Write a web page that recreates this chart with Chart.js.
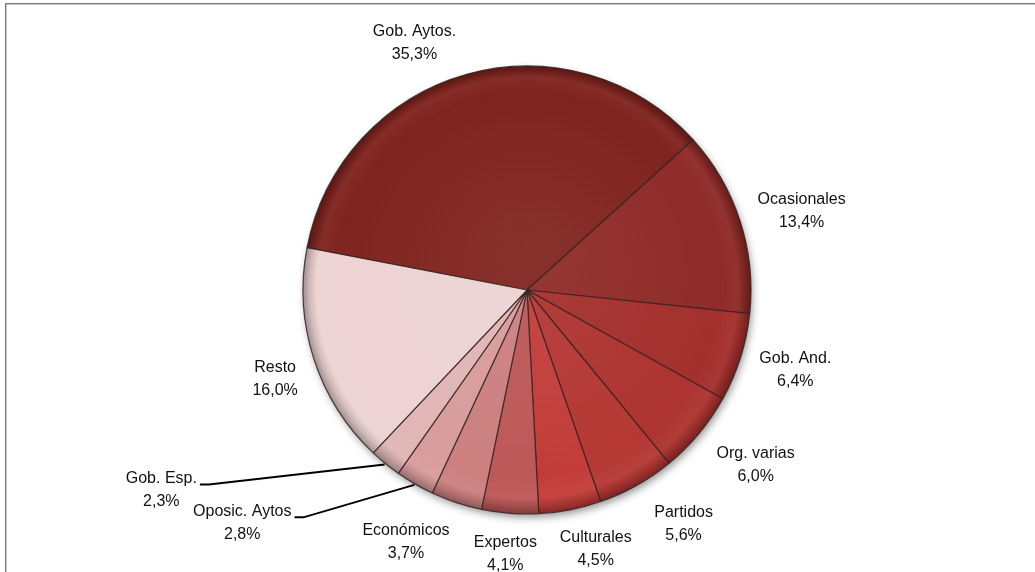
<!DOCTYPE html>
<html>
<head>
<meta charset="utf-8">
<script src="https://cdn.jsdelivr.net/npm/chart.js@4.4.1/dist/chart.umd.min.js"></script>
<style>
  html, body { margin: 0; padding: 0; background: #fff; overflow: hidden; }
  #frame {
    position: absolute; left: 5px; top: 3px; width: 1100px; height: 700px;
    border: 1px solid #7a7a7a; box-shadow: inset 0 0 0 1px #c4c4c4;
  }
  #chartBox { position: absolute; left: 0; top: 0; width: 1035px; height: 572px; }
</style>
</head>
<body>
<div id="frame"></div>
<div id="chartBox"><canvas id="pieChart" width="1035" height="572"></canvas></div>
<script>
'use strict';

// categories, clockwise starting from the big slice
const categories = ['Gob. Aytos.', 'Ocasionales', 'Gob. And.', 'Org. varias', 'Partidos',
    'Culturales', 'Expertos', 'Económicos', 'Oposic. Aytos', 'Gob. Esp.', 'Resto'];
const shares = [35.3, 13.4, 6.4, 6.0, 5.6, 4.5, 4.1, 3.7, 2.8, 2.3, 16.0];
const sliceColors = ['#80241f', '#8f2b28', '#a3302d', '#ad3430', '#b53834',
    '#c23d3a', '#bd5858', '#cc8080', '#d89c9c', '#e0b6b6', '#edd3d3'];

// label layout (nudge from default radial spot, px); leader = draw a connector line
const labelNudge = {
    'Gob. Aytos.': [-39, 16], 'Ocasionales': [15, 6], 'Gob. And.': [8, -2], 'Org. varias': [19, 0],
    'Partidos': [23, -4], 'Culturales': [16, -9], 'Expertos': [-1, -8], 'Económicos': [-35, -7],
    'Oposic. Aytos': [-148, -3], 'Gob. Esp.': [-193, -11], 'Resto': [8, 5]
};
const leaderLabels = ['Oposic. Aytos', 'Gob. Esp.'];

const FONT = '16px "Liberation Sans", Arial, sans-serif';
const PIE_R = 224;

function shade(hex, amt) {
    const n = parseInt(hex.slice(1), 16);
    let r = n >> 16, g = (n >> 8) & 255, b = n & 255;
    const f = c => Math.max(0, Math.min(255, Math.round(amt < 0 ? c * (1 + amt) : c + (255 - c) * amt)));
    return `rgb(${f(r)},${f(g)},${f(b)})`;
}

function sliceFill(context) {
    const chart = context.chart;
    const area = chart.chartArea;
    if (!area) return sliceColors[context.dataIndex];
    const cx = (area.left + area.right) / 2, cy = (area.top + area.bottom) / 2;
    const base = sliceColors[context.dataIndex];
    const g = chart.ctx.createRadialGradient(cx, cy - 40, 0, cx, cy, PIE_R);
    g.addColorStop(0, shade(base, 0.06));
    g.addColorStop(0.86, base);
    g.addColorStop(0.94, shade(base, 0.04));
    g.addColorStop(0.97, shade(base, -0.12));
    g.addColorStop(1, shade(base, -0.32));
    return g;
}

const pieShadow = {
    id: 'pieShadow',
    beforeDatasetsDraw(chart) {
        const arc = chart.getDatasetMeta(0).data[0];
        if (!arc) return;
        const ctx = chart.ctx;
        ctx.save();
        ctx.shadowColor = 'rgba(0,0,0,0.45)';
        ctx.shadowBlur = 9;
        ctx.shadowOffsetX = 2;
        ctx.shadowOffsetY = 4;
        ctx.fillStyle = '#777';
        ctx.beginPath();
        ctx.arc(arc.x, arc.y, arc.outerRadius - 1, 0, Math.PI * 2);
        ctx.fill();
        ctx.restore();
    }
};

const sliceLabels = {
    id: 'sliceLabels',
    afterDatasetsDraw(chart) {
        const ctx = chart.ctx;
        const meta = chart.getDatasetMeta(0);
        ctx.save();
        ctx.font = FONT;
        ctx.fillStyle = '#111';
        ctx.textAlign = 'center';
        ctx.textBaseline = 'middle';
        meta.data.forEach((arc, i) => {
            const p = arc.getProps(['x', 'y', 'startAngle', 'endAngle', 'outerRadius'], true);
            const mid = (p.startAngle + p.endAngle) / 2;
            const name = categories[i];
            const nudge = labelNudge[name] || [0, 0];
            const lx = p.x + Math.cos(mid) * p.outerRadius * 1.219 + nudge[0];
            const ly = p.y + Math.sin(mid) * p.outerRadius * 1.219 + nudge[1];
            const valueText = shares[i].toFixed(1).replace('.', ',') + '%';
            ctx.fillText(name, lx, ly - 11.5);
            ctx.fillText(valueText, lx, ly + 11.5);
            if (leaderLabels.includes(name)) {
                const w = ctx.measureText(name).width;
                const sx = lx + w / 2 + 3, sy = ly - 6;
                ctx.beginPath();
                ctx.strokeStyle = '#000';
                ctx.lineWidth = 2;
                ctx.moveTo(sx, sy);
                ctx.lineTo(sx + 9, sy);
                ctx.lineTo(p.x + Math.cos(mid) * p.outerRadius * 1.005, p.y + Math.sin(mid) * p.outerRadius * 1.005);
                ctx.stroke();
            }
        });
        ctx.restore();
    }
};

new Chart(document.getElementById('pieChart').getContext('2d'), {
    type: 'pie',
    data: {
        labels: categories,
        datasets: [{
            data: shares,
            backgroundColor: sliceFill,
            borderColor: 'rgba(55,35,35,0.85)',
            borderWidth: 1.2,
            radius: PIE_R
        }]
    },
    options: {
        responsive: false,
        animation: false,
        rotation: -79.1,
        layout: { padding: { left: 20, right: 1, top: 66, bottom: 58 } },
        plugins: {
            legend: { display: false },
            tooltip: { enabled: false }
        }
    },
    plugins: [pieShadow, sliceLabels]
});
</script>
</body>
</html>
